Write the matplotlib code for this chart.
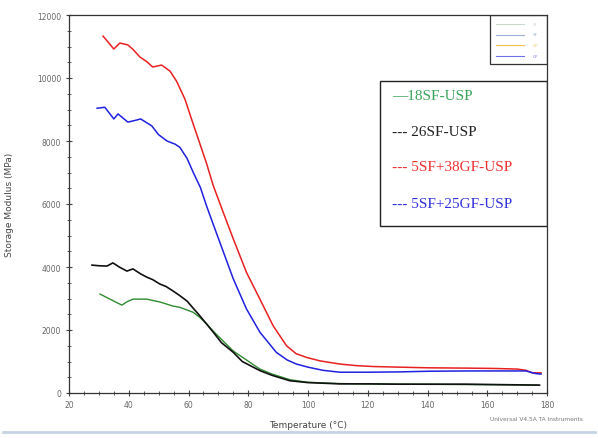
import matplotlib
matplotlib.use("Agg")
import matplotlib.pyplot as plt
from matplotlib.ticker import MultipleLocator
from matplotlib.lines import Line2D

# ---- data ----
t_red = [31.4, 33.0, 35.0, 37.0, 39.7, 41.5, 43.7, 46.0, 48.0, 51.0, 53.8, 56.0, 58.8, 61.0, 63.5,
         66.0, 68.3, 71.6, 75.0, 79.4, 83.9, 88.3, 92.8, 96.0, 99.5, 104.0, 110.6, 116.0, 122.0, 130.7,
         140.0, 153.0, 162.0, 170.0, 173.0, 175.0, 178.0]
e_red = [11330, 11150, 10920, 11110, 11050, 10900, 10670, 10520, 10350, 10410, 10220, 9900, 9330, 8700,
         8000, 7300, 6580, 5740, 4890, 3830, 2980, 2140, 1500, 1250, 1130, 1020, 920, 870, 840, 820, 800,
         790, 780, 760, 720, 640, 640]

t_blue = [29.4, 32.0, 35.0, 36.4, 39.7, 42.0, 44.0, 47.7, 50.0, 52.8, 55.5, 57.1, 59.5, 61.6, 64.0,
          66.0, 68.3, 70.5, 75.0, 79.4, 83.9, 89.4, 93.0, 96.1, 100.0, 105.0, 110.6, 120.0, 130.7, 140.0,
          153.0, 163.0, 173.0, 176.0, 178.0]
e_blue = [9040, 9070, 8700, 8860, 8600, 8650, 8700, 8480, 8200, 8000, 7900, 7800, 7450, 7000, 6520,
          5950, 5350, 4780, 3620, 2670, 1930, 1290, 1050, 920, 820, 720, 660, 660, 670, 690, 700, 700,
          700, 620, 600]

t_black = [27.7, 30.0, 32.7, 34.7, 37.0, 39.4, 41.4, 44.0, 46.0, 48.0, 50.4, 52.5, 54.8, 57.1, 59.5,
           61.5, 63.8, 68.3, 71.0, 75.0, 78.0, 83.9, 88.0, 93.9, 100.0, 110.6, 120.0, 130.0, 153.0,
           165.0, 177.5]
e_black = [4060, 4040, 4030, 4130, 3990, 3870, 3940, 3780, 3680, 3600, 3460, 3380, 3240, 3090, 2920,
           2700, 2450, 1930, 1600, 1290, 1000, 710, 560, 390, 330, 290, 290, 280, 280, 265, 250]

t_green = [30.4, 33.7, 36.0, 37.7, 39.5, 41.4, 46.0, 50.4, 54.8, 57.1, 61.6, 63.8, 66.0, 68.3, 75.0,
           83.9, 88.0, 94.0, 100.0, 110.0, 130.0, 150.0, 165.0, 177.0]
e_green = [3140, 2980, 2870, 2790, 2900, 2980, 2980, 2890, 2760, 2720, 2560, 2400, 2200, 1960, 1330,
           760, 600, 420, 340, 300, 280, 270, 260, 250]

legend_labels = ["—18SF-USP", "--- 26SF-USP", "--- 5SF+38GF-USP", "--- 5SF+25GF-USP"]
legend_colors = ["#3aa35a", "#222222", "#ee3030", "#3030dd"]
small_labels = ["SF", "SF", "GF", "GF"]
small_colors = ["#c9d9c9", "#9fb0d8", "#f2c050", "#7070ee"]

x_ticks = [20, 40, 60, 80, 100, 120, 140, 160, 180]
y_ticks = [0, 2000, 4000, 6000, 8000, 10000, 12000]

# ---- figure ----
fig = plt.figure(figsize=(5.98, 4.39), dpi=100)
ax = fig.add_axes([69/598, 1-394/439, (547-69)/598, (394-16)/439])

ax.plot(t_green, e_green, color="#2e8b2e", lw=1.0)
ax.plot(t_black, e_black, color="#111111", lw=1.2)
ax.plot(t_red, e_red, color="#e82020", lw=1.1)
ax.plot(t_blue, e_blue, color="#2020e0", lw=1.1)

ax.set_xlim(20, 180)
ax.set_ylim(0, 12000)
ax.set_xticks(x_ticks)
ax.set_yticks(y_ticks)
ax.xaxis.set_minor_locator(MultipleLocator(5))
ax.yaxis.set_minor_locator(MultipleLocator(500))
ax.tick_params(which="major", direction="inout", length=4, width=0.8, colors="#444444",
               labelsize=5.5, labelcolor="#666666", top=False, right=False)
ax.tick_params(which="minor", direction="inout", length=2.5, width=0.6, colors="#444444",
               top=False, right=False)
ax.tick_params(axis="x", pad=3)
for s in ax.spines.values():
    s.set_color("#333333")
    s.set_linewidth(0.9)

ax.set_xlabel("Temperature (°C)", fontsize=6.5, color="#444444")
ax.xaxis.set_label_coords((308-69)/(547-69), -(421-394)/(394-16))
ax.set_ylabel("Storage Modulus (MPa)", fontsize=6.5, color="#444444")
ax.yaxis.set_label_coords(-(69-14)/(547-69), 0.5)

# big legend box (drawn as axes-fraction rectangle + texts)
x0, x1 = (380-69)/(547-69), (547-69)/(547-69)
y0, y1 = (394-227)/(394-16), (394-82)/(394-16)
ax.add_patch(plt.Rectangle((x0, y0), x1-x0, y1-y0, transform=ax.transAxes, fill=False,
                           edgecolor="#222222", lw=1.0, zorder=5))
ys = [97, 133, 168, 205]
for lab, col, ypx in zip(legend_labels, legend_colors, ys):
    ax.text((392-69)/(547-69), (394-ypx)/(394-16), lab, transform=ax.transAxes,
            fontsize=11, color=col, family="Liberation Serif", va="center", ha="left", zorder=6)

# small legend box at top right
sx0, sy0 = (490-69)/(547-69), (394-65)/(394-16)
ax.add_patch(plt.Rectangle((sx0, sy0), 1-sx0, 1-sy0, transform=ax.transAxes, fill=False,
                           edgecolor="#333333", lw=0.9, zorder=5))
for i, (lab, col) in enumerate(zip(small_labels, small_colors)):
    ypx = 25 + i * 10.5
    yy = (394-ypx)/(394-16)
    ax.add_line(Line2D([(496-69)/(547-69), (524-69)/(547-69)], [yy, yy], transform=ax.transAxes,
                       color=col, lw=0.8, zorder=6))
    ax.text((533-69)/(547-69), yy, lab, transform=ax.transAxes, fontsize=3, color=col,
            va="center", ha="left", zorder=6)

fig.text(490/598, 1-420/439, "Universal V4.5A TA Instruments", fontsize=4.2, color="#777777",
         ha="left", va="center")

# screenshot frame line at bottom
fig.add_artist(Line2D([0.005, 0.995], [1-433/439, 1-433/439], transform=fig.transFigure,
                      color="#c5d5e5", lw=2.0))

fig.savefig("out.png", dpi=100)
